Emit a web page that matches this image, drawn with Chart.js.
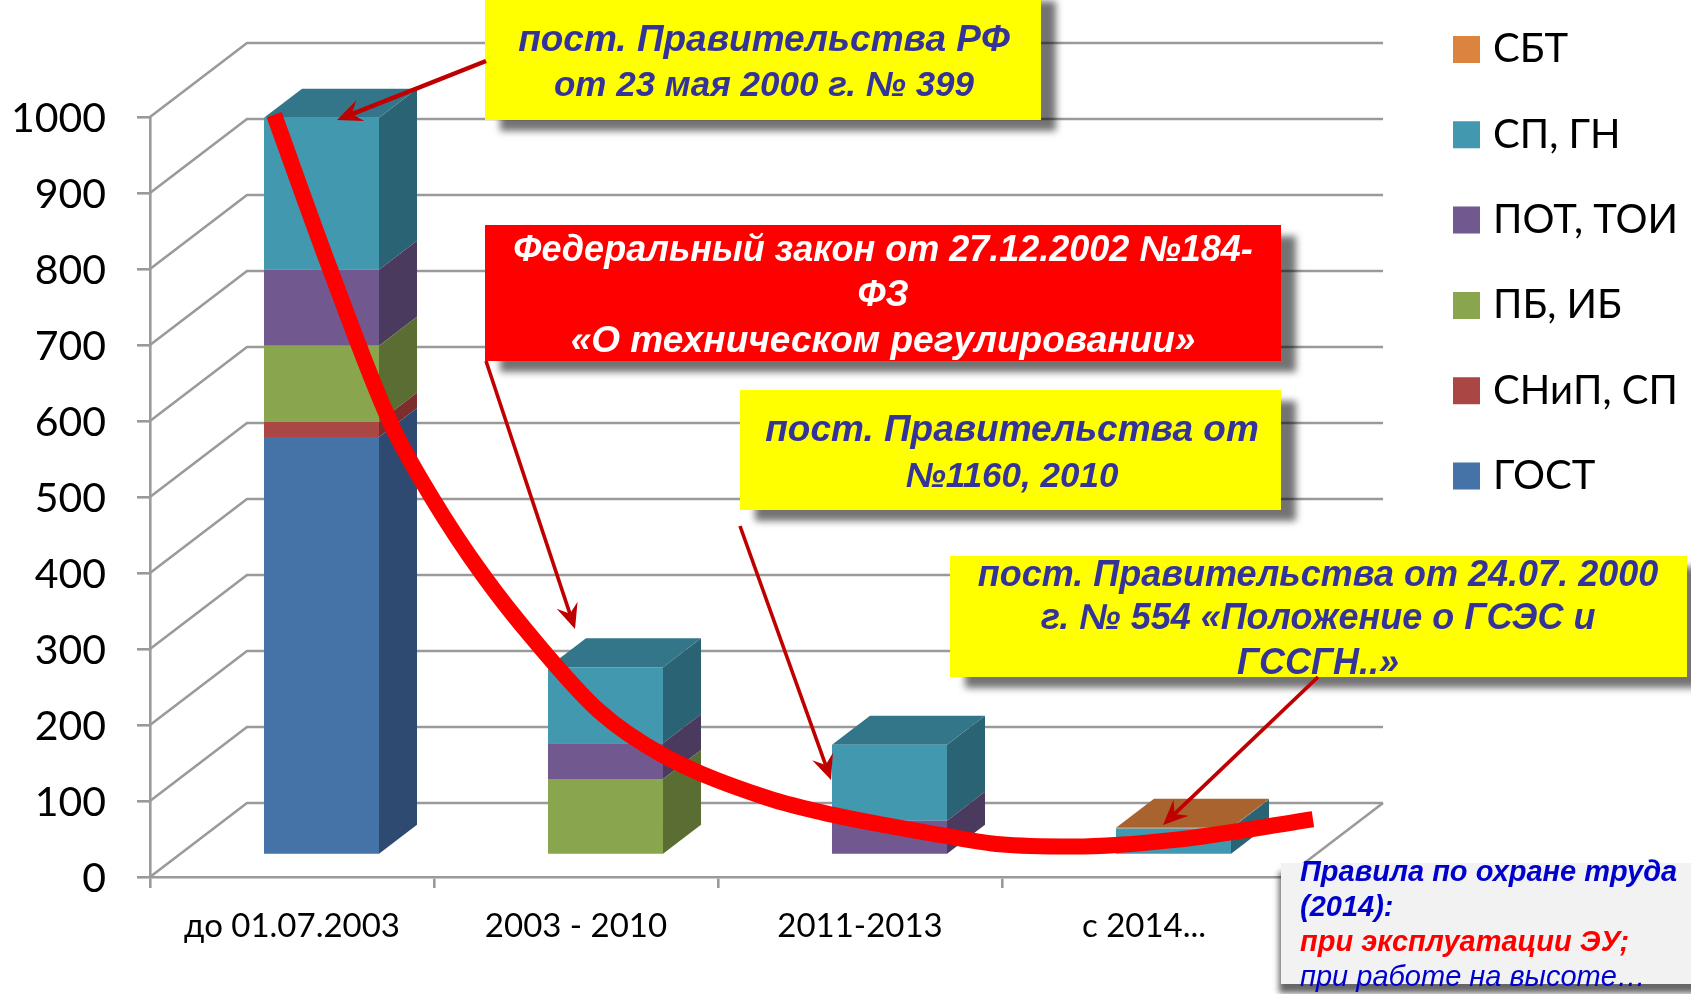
<!DOCTYPE html>
<html><head><meta charset="utf-8">
<style>html,body{margin:0;padding:0;background:#fff}canvas{display:block}</style>
<script src="https://cdn.jsdelivr.net/npm/chart.js@4"></script>
</head><body><canvas id="c" width="1691" height="994"></canvas>
<script>
const categories = ['до 01.07.2003','2003 - 2010','2011-2013','с 2014...'];
const gost  = [550,0,0,0];
const snip  = [20,0,0,0];
const pb    = [100,100,0,0];
const pot   = [100,47,45,0];
const spgn  = [200,100,100,35];
const sbt   = [0,0,0,1];
const seriesNames = ['ГОСТ','СНиП, СП','ПБ, ИБ','ПОТ, ТОИ','СП, ГН','СБТ'];
const frontColors = ['#4572A7','#AA4643','#89A54E','#71588F','#4198AF','#DB843D'];
const sideColors  = ['#2E4A70','#7B2E2C','#5A6D33','#4A3A5E','#2A6474','#8F5628'];
const topColors   = ['#375A85','#8A3836','#6E843E','#5A4672','#33768A','#A9632F'];
const trendX = [-0.063,0.134,0.345,0.496,0.673,0.852,1.085,1.303,1.673,1.901,2.303,2.493,2.75,3.113,3.595];
const trendY = [1003,800,599,497,397,312,217,161,104,82,54,43,40,49,76];

const noteTexts = [
  ['пост. Правительства РФ','от 23 мая 2000 г. № 399'],
  ['Федеральный закон от 27.12.2002 №184-','ФЗ','«О техническом регулировании»'],
  ['пост. Правительства от','№1160, 2010'],
  ['пост. Правительства от 24.07. 2000','г. № 554 «Положение о ГСЭС и','ГССГН..»']
];
const rulesTexts = ['Правила по охране труда','(2014):','при эксплуатации ЭУ;','при работе на высоте…'];

const noteBoxes = [
  {l:485,t:-10,r:1041,b:120,fill:'#FFFF00',color:'#333399',cx:764,sizes:[37,35],ys:[41,86]},
  {l:485,t:225,r:1281,b:361,fill:'#FF0000',color:'#FFFFFF',cx:883,sizes:[36,36,37],ys:[251,296,342]},
  {l:740,t:390,r:1281,b:510,fill:'#FFFF00',color:'#333399',cx:1012,sizes:[37,35],ys:[431,477]},
  {l:950,t:556,r:1687,b:677,fill:'#FFFF00',color:'#333399',cx:1318,sizes:[36,36,36],ys:[576,619,664]}
];
const arrows = [
  {x1:486,y1:61,x2:337,y2:120,w:4.5},
  {x1:486,y1:361,x2:575,y2:629,w:3.6},
  {x1:740,y1:526,x2:831,y2:780,w:3.6},
  {x1:1318,y1:677,x2:1163,y2:825,w:3.8}
];
const DEPTH = {dx:97,dy:-74};
const BAR_SHIFT = {dx:29.5,dy:-22};
const BAR_DEPTH = {dx:38,dy:-29};
const WALL = '#9A9A9A';
const WALL_W = 2.6;
const barCount = seriesNames.length;
const seriesValues = [gost,snip,pb,pot,spgn,sbt];

function poly(ctx,pts,fill){
  ctx.fillStyle=fill;ctx.beginPath();
  pts.forEach((p,i)=>i?ctx.lineTo(p[0],p[1]):ctx.moveTo(p[0],p[1]));
  ctx.closePath();ctx.fill();
}
function arrow(ctx,a){
  const ang=Math.atan2(a.y2-a.y1,a.x2-a.x1),c=Math.cos(ang),s=Math.sin(ang);
  const L=25,W=11,N=16;
  ctx.strokeStyle='#C00000';ctx.lineWidth=a.w;ctx.lineCap='butt';
  ctx.beginPath();ctx.moveTo(a.x1,a.y1);ctx.lineTo(a.x2-c*N,a.y2-s*N);ctx.stroke();
  poly(ctx,[[a.x2,a.y2],[a.x2-c*L-s*W,a.y2-s*L+c*W],[a.x2-c*N,a.y2-s*N],[a.x2-c*L+s*W,a.y2-s*L-c*W]],'#C00000');
}

const wallsPlugin = {
  id:'walls',
  afterLayout(chart){
    const lg=chart.legend,p=lg.options.labels.padding;
    lg.left=1460-p;lg.right=1691;lg.top=29.5-p;lg.bottom=700;
    lg.width=lg.right-lg.left;lg.height=lg.bottom-lg.top;
  },
  beforeDatasetsDraw(chart){
    const ctx=chart.ctx,y=chart.scales.y,a=chart.chartArea;
    ctx.save();ctx.strokeStyle=WALL;ctx.lineWidth=WALL_W;
    y.ticks.forEach(t=>{
      const py=y.getPixelForValue(t.value);
      ctx.beginPath();ctx.moveTo(a.left,py);ctx.lineTo(a.left+DEPTH.dx,py+DEPTH.dy);
      ctx.lineTo(a.right+DEPTH.dx,py+DEPTH.dy);ctx.stroke();
    });
    const py0=y.getPixelForValue(0);
    ctx.beginPath();ctx.moveTo(a.right,py0);ctx.lineTo(a.right+DEPTH.dx,py0+DEPTH.dy);ctx.stroke();
    ctx.restore();
  },
  beforeDatasetDraw(chart,args){
    if(args.index>=barCount)return;
    const ctx=chart.ctx;
    ctx.save();ctx.translate(BAR_SHIFT.dx,BAR_SHIFT.dy);
    args.meta.data.forEach((el,i)=>{
      if(!seriesValues[args.index][i])return;
      const p=el.getProps(['x','y','base','width'],true);
      const r=p.x+p.width/2,l=p.x-p.width/2,d=BAR_DEPTH;
      poly(ctx,[[r,p.y],[r+d.dx,p.y+d.dy],[r+d.dx,p.base+d.dy],[r,p.base]],sideColors[args.index]);
      const isTop=seriesValues.slice(args.index+1).every(s=>!s[i]);
      if(isTop)poly(ctx,[[l,p.y],[l+d.dx,p.y+d.dy],[r+d.dx,p.y+d.dy],[r,p.y]],topColors[args.index]);
    });
  },
  afterDatasetDraw(chart,args){
    if(args.index>=barCount)return;
    chart.ctx.restore();
  },
  afterDraw(chart){
    const ctx=chart.ctx;
    ctx.save();
    ctx.textAlign='center';ctx.textBaseline='middle';
    noteBoxes.forEach((b,i)=>{
      ctx.save();
      ctx.shadowColor='rgba(0,0,0,0.55)';ctx.shadowBlur=7;ctx.shadowOffsetX=15;ctx.shadowOffsetY=11;
      ctx.fillStyle=b.fill;ctx.fillRect(b.l,b.t,b.r-b.l,b.b-b.t);
      ctx.restore();
      ctx.fillStyle=b.color;
      noteTexts[i].forEach((s,j)=>{
        ctx.font='italic bold '+b.sizes[j]+'px "Liberation Sans"';
        ctx.fillText(s,b.cx,b.ys[j]);
      });
    });
    arrows.forEach(a=>arrow(ctx,a));
    ctx.save();
    ctx.shadowColor='rgba(0,0,0,0.6)';ctx.shadowBlur=6;ctx.shadowOffsetX=-2;ctx.shadowOffsetY=9;
    ctx.fillStyle='#F2F2F2';ctx.fillRect(1281,863,420,121);
    ctx.restore();
    ctx.textAlign='left';
    const ry=[873,908,943,978],rc=['#0000CC','#0000CC','#FF0000','#0000CC'];
    rulesTexts.forEach((s,i)=>{
      ctx.fillStyle=rc[i];
      ctx.font=(i===3?'italic ':'italic bold ')+'29px "Liberation Sans"';
      ctx.fillText(s,1300,ry[i]);
    });
    ctx.restore();
  }
};

const barSets = seriesNames.map((n,i)=>({
  label:n,data:seriesValues[i],backgroundColor:frontColors[i],borderWidth:0,
  stack:'s',xAxisID:'x',yAxisID:'y',grouped:false,barPercentage:0.405,categoryPercentage:1,clip:false,order:1
}));
const trendSet = {
  type:'line',label:'тренд',data:trendX.map((x,i)=>({x:x,y:trendY[i]})),
  xAxisID:'xTrend',yAxisID:'y',borderColor:'#FF0000',borderWidth:16,borderCapStyle:'butt',
  pointRadius:0,cubicInterpolationMode:'monotone',clip:false,order:0,fill:false
};
const FONT='Lato, "Noto Sans", sans-serif';
new Chart(document.getElementById('c'),{
  type:'bar',
  data:{labels:categories,datasets:[...barSets,trendSet]},
  options:{
    responsive:false,animation:false,devicePixelRatio:1,
    layout:{autoPadding:false,padding:{left:0,right:405,top:117,bottom:0}},
    plugins:{
      tooltip:{enabled:false},
      legend:{
        position:'chartArea',align:'start',reverse:true,
        labels:{
          usePointStyle:true,pointStyle:'rect',boxWidth:13,boxHeight:27,padding:45.3,color:'#000',
          font:{family:FONT,size:40},
          filter:(it)=>seriesNames.includes(it.text)
        }
      }
    },
    scales:{
      x:{
        type:'category',stacked:true,position:'bottom',
        afterFit:s=>{s.height=117},
        border:{color:WALL,width:WALL_W},
        grid:{display:true,drawOnChartArea:false,drawTicks:true,tickLength:11,color:WALL,lineWidth:WALL_W,offset:true},
        ticks:{color:'#000',font:{family:FONT,size:33},padding:19,maxRotation:0,autoSkip:false}
      },
      xTrend:{type:'linear',display:false,min:-0.5,max:3.5,offset:false},
      y:{
        stacked:true,min:0,max:1000,position:'left',
        afterFit:s=>{s.width=150},
        border:{color:WALL,width:WALL_W},
        grid:{display:true,drawOnChartArea:false,drawTicks:true,tickLength:13,color:WALL,lineWidth:WALL_W},
        ticks:{stepSize:100,color:'#000',font:{family:FONT,size:41},padding:31,labelOffset:2,format:{useGrouping:false}}
      }
    }
  },
  plugins:[wallsPlugin]
});
</script></body></html>
